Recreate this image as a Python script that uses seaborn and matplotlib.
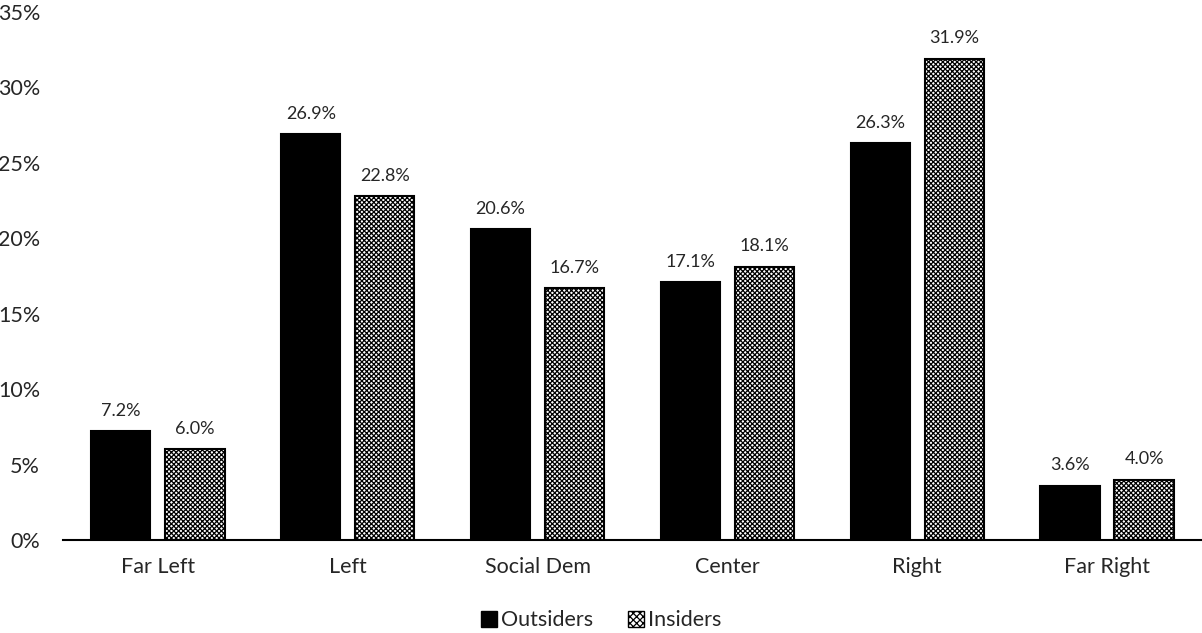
import matplotlib
matplotlib.use("Agg")
import matplotlib.pyplot as plt
import matplotlib.patches as mpatches
import seaborn as sns
import pandas as pd

categories = ["Far Left", "Left", "Social Dem", "Center", "Right", "Far Right"]
outsiders = [7.2, 26.9, 20.6, 17.1, 26.3, 3.6]
insiders = [6.0, 22.8, 16.7, 18.1, 31.9, 4.0]
groups = ["Outsiders", "Insiders"]
y_ticks = [0, 5, 10, 15, 20, 25, 30, 35]

df = pd.DataFrame({
    "category": categories * 2,
    "share": outsiders + insiders,
    "group": [groups[0]] * len(categories) + [groups[1]] * len(categories),
})

sns.set_style("white")
plt.rcParams["font.family"] = ["Lato", "DejaVu Sans"]
plt.rcParams["hatch.linewidth"] = 0.9

fig = plt.figure(figsize=(12.02, 6.33), dpi=100)
ax = fig.add_axes([0.0524, 0.147, 0.9476, 0.834])

sns.barplot(data=df, x="category", y="share", hue="group", order=categories,
            hue_order=groups, palette={"Outsiders": "black", "Insiders": "white"},
            edgecolor="black", linewidth=1.5, width=0.78, gap=0.2,
            legend=False, ax=ax)

# Insider bars get a fine checker hatch
for patch in ax.containers[1]:
    patch.set_hatch("xxxxxxx")
    patch.set_facecolor("white")
    patch.set_edgecolor("black")

for cont in ax.containers:
    ax.bar_label(cont, fmt="%.1f%%", padding=9, fontsize=13)

ax.set_xlim(-0.5, len(categories) - 0.5)
ax.set_ylim(0, 35)
ax.set_yticks(y_ticks)
ax.set_yticklabels([f"{t}%" for t in y_ticks], fontsize=15.5)
ax.tick_params(axis="y", length=0, pad=16.5)
ax.tick_params(axis="x", length=0, pad=12, labelsize=15.5)
ax.set_xlabel("")
ax.set_ylabel("")
for side in ["top", "right", "left"]:
    ax.spines[side].set_visible(False)
ax.spines["bottom"].set_linewidth(1.5)
ax.spines["bottom"].set_color("black")

handles = [
    mpatches.Patch(facecolor="black", edgecolor="black", label="Outsiders"),
    mpatches.Patch(facecolor="white", edgecolor="black", hatch="xxxxx", label="Insiders"),
]
fig.legend(handles=handles, loc="center", bbox_to_anchor=(0.5, 0.02), ncol=2,
           frameon=False, fontsize=15.5, handlelength=0.75, handleheight=0.75,
           handletextpad=0.2, columnspacing=1.6)

fig.savefig("out.png", dpi=100)
